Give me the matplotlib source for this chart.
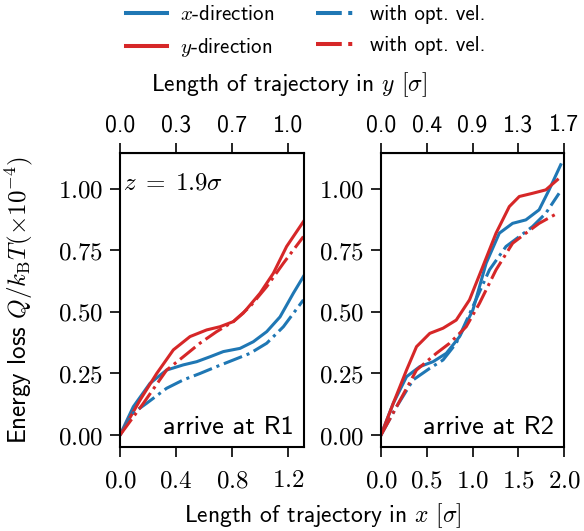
import numpy as np
import matplotlib
matplotlib.use('Agg')
import matplotlib.pyplot as plt

plt.rcParams['font.family'] = 'cmss10'
plt.rcParams['mathtext.fontset'] = 'cm'
plt.rcParams['axes.unicode_minus'] = False

# ---- data ----
# panel R1
r1_x_xdir = [0, 0.095, 0.214, 0.333, 0.452, 0.548, 0.643, 0.738, 0.857, 0.952, 1.048, 1.143, 1.238, 1.31]
r1_y_xdir = [0, 0.115, 0.210, 0.264, 0.285, 0.298, 0.318, 0.339, 0.352, 0.379, 0.420, 0.480, 0.576, 0.644]
r1_x_xopt = [0, 0.095, 0.19, 0.333, 0.452, 0.571, 0.69, 0.81, 0.929, 1.048, 1.167, 1.31]
r1_y_xopt = [0, 0.090, 0.129, 0.190, 0.224, 0.250, 0.278, 0.305, 0.332, 0.373, 0.440, 0.549]
r1_x_ydir = [0, 0.143, 0.262, 0.381, 0.5, 0.619, 0.714, 0.81, 0.88, 1.0, 1.095, 1.19, 1.31]
r1_y_ydir = [0, 0.142, 0.250, 0.346, 0.400, 0.427, 0.440, 0.461, 0.495, 0.576, 0.657, 0.766, 0.867]
r1_x_yopt = [0, 0.167, 0.333, 0.452, 0.571, 0.69, 0.81, 0.929, 1.048, 1.167, 1.31]
r1_y_yopt = [0, 0.129, 0.264, 0.318, 0.373, 0.420, 0.461, 0.522, 0.603, 0.698, 0.806]

# panel R2
r2_x_xdir = [0, 0.134, 0.279, 0.424, 0.569, 0.714, 0.859, 1.004, 1.149, 1.293, 1.438, 1.583, 1.728, 1.837, 1.964]
r2_y_xdir = [0, 0.129, 0.237, 0.278, 0.298, 0.332, 0.400, 0.508, 0.698, 0.820, 0.860, 0.874, 0.915, 0.996, 1.098]
r2_x_xopt = [0, 0.17, 0.351, 0.533, 0.678, 0.822, 1.004, 1.185, 1.366, 1.511, 1.656, 1.801, 1.946]
r2_y_xopt = [0, 0.115, 0.224, 0.271, 0.305, 0.373, 0.522, 0.671, 0.766, 0.806, 0.847, 0.901, 0.982]
r2_x_ydir = [0, 0.134, 0.279, 0.388, 0.533, 0.678, 0.822, 0.967, 1.112, 1.257, 1.402, 1.511, 1.656, 1.801, 1.928]
r2_y_ydir = [0, 0.129, 0.264, 0.359, 0.413, 0.434, 0.467, 0.549, 0.684, 0.820, 0.928, 0.969, 0.982, 0.996, 1.037]
r2_x_yopt = [0, 0.17, 0.388, 0.605, 0.75, 0.931, 1.076, 1.257, 1.438, 1.583, 1.728, 1.928]
r2_y_yopt = [0, 0.115, 0.264, 0.332, 0.373, 0.440, 0.535, 0.671, 0.779, 0.820, 0.860, 0.901]

# ticks
r1_xticks = [0.0, 0.4, 0.8, 1.2]
r1_top_labels = ['0.0', '0.3', '0.7', '1.0']
r2_xticks = [0.0, 0.5, 1.0, 1.5, 2.0]
r2_top_labels = ['0.0', '0.4', '0.9', '1.3', '1.7']
yticks = [0.0, 0.25, 0.5, 0.75, 1.0]

col_x = '#1f77b4'
col_y = '#d62728'
lw = 2.2

fig = plt.figure(figsize=(5.84, 5.31), dpi=100)
ax1 = fig.add_axes([0.2055, 0.158, 0.315, 0.554])
ax2 = fig.add_axes([0.6524, 0.158, 0.3134, 0.554])

panels = [
    (ax1, r1_x_xdir, r1_y_xdir, r1_x_xopt, r1_y_xopt, r1_x_ydir, r1_y_ydir,
     r1_x_yopt, r1_y_yopt, r1_xticks, r1_top_labels, 1.314, 'arrive at R1'),
    (ax2, r2_x_xdir, r2_y_xdir, r2_x_xopt, r2_y_xopt, r2_x_ydir, r2_y_ydir,
     r2_x_yopt, r2_y_yopt, r2_xticks, r2_top_labels, 2.0, 'arrive at R2'),
]

for (ax, xa, ya, xb, yb, xc, yc, xd, yd, xt, tl, xmax, txt) in panels:
    ax.plot(xa, ya, c=col_x, lw=lw, ls='-', label=r'$x$-direction')
    ax.plot(xc, yc, c=col_y, lw=lw, ls='-', label=r'$y$-direction')
    ax.plot(xb, yb, c=col_x, lw=lw, ls='-.', label='with opt. vel.')
    ax.plot(xd, yd, c=col_y, lw=lw, ls='-.', label='with opt. vel.')

    ax.set_xlim(0, xmax)
    ax.set_ylim(-0.049, 1.146)
    ax.set_xticks(xt)
    ax.set_xticklabels([r'$%.1f$' % v for v in xt])
    ax.set_yticks(yticks)
    ax.set_yticklabels([r'$%.2f$' % v for v in yticks])
    ax.tick_params(direction='out', length=7, width=1.2, labelsize=18, pad=5)
    ax.tick_params(axis='x', pad=9)
    for s in ax.spines.values():
        s.set_linewidth(1.5)

    sec = ax.secondary_xaxis('top')
    sec.set_xticks(xt)
    sec.set_xticklabels(tl)
    sec.tick_params(direction='out', length=7, width=1.2, labelsize=17, pad=5)

    ax.text(0.946, 0.068, txt, transform=ax.transAxes, ha='right', va='center',
            fontsize=19)

ax1.text(0.016, 0.898, r'$z\;=\;1.9\sigma$', transform=ax1.transAxes,
         ha='left', va='center', fontsize=18)

ax1.set_ylabel(r'Energy loss $Q/k_\mathrm{B}T(\times 10^{-4})$', fontsize=18)
ax1.yaxis.set_label_coords(-0.46, 0.5)

fig.text(323 / 584, 1 - 516 / 531, r'Length of trajectory in $x$ $[\sigma]$',
         ha='center', va='center', fontsize=17)
fig.text(289 / 584, 1 - 85 / 531, r'Length of trajectory in $y$ $[\sigma]$',
         ha='center', va='center', fontsize=17)

h, l = ax1.get_legend_handles_labels()
leg = fig.legend(h, l, ncol=2, loc='upper center', bbox_to_anchor=(0.523, 1.025),
                 frameon=False, fontsize=15, handlelength=2.0, columnspacing=2.0,
                 labelspacing=0.55, handletextpad=0.6)
for ln in leg.get_lines():
    ln.set_linewidth(2.9)

fig.savefig('out.png', dpi=100)
plt.close()
